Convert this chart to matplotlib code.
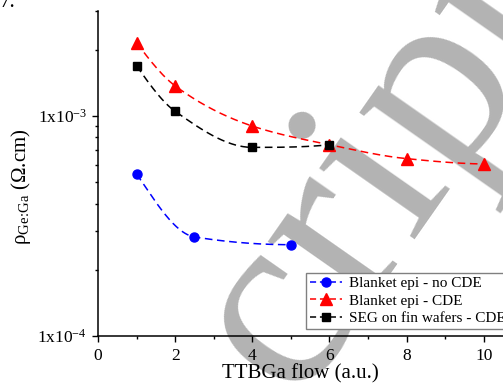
import numpy as np
import matplotlib
matplotlib.use('Agg')
import matplotlib.pyplot as plt
from matplotlib.lines import Line2D
from matplotlib.ticker import FixedLocator, NullFormatter, MultipleLocator

# data
flow_no_cde = [1, 2.5, 5]
rho_no_cde = [5.45e-4, 2.82e-4, 2.6e-4]
flow_cde = [1, 2, 4, 6, 8, 10]
rho_cde = [2.15e-3, 1.37e-3, 9.0e-4, 7.4e-4, 6.4e-4, 6.05e-4]
flow_seg = [1, 2, 4, 6]
rho_seg = [1.69e-3, 1.05e-3, 7.2e-4, 7.4e-4]
series_labels = ['Blanket epi - no CDE', 'Blanket epi - CDE', 'SEG on fin wafers - CDE']
x_ticks = [0, 2, 4, 6, 8, 10]
y_ticks = [1e-4, 1e-3]
y_ticklabels = ['1x10$^{-4}$', '1x10$^{-3}$']


# monotone (pchip) curve through the points in log y, like the origin spline line
def smooth(x, y, n=200):
    x = np.asarray(x, float)
    ly = np.log10(y)
    m = len(x)
    h = np.diff(x)
    delta = np.diff(ly) / h
    d = np.zeros(m)
    for k in range(1, m - 1):
        if delta[k - 1] * delta[k] > 0:
            w1 = 2 * h[k] + h[k - 1]
            w2 = h[k] + 2 * h[k - 1]
            d[k] = (w1 + w2) / (w1 / delta[k - 1] + w2 / delta[k])
    # end slopes
    for k, (hh0, hh1, dl0, dl1) in [(0, (h[0], h[1], delta[0], delta[1])),
                                    (m - 1, (h[-1], h[-2], delta[-1], delta[-2]))]:
        e = ((2 * hh0 + hh1) * dl0 - hh0 * dl1) / (hh0 + hh1)
        if np.sign(e) != np.sign(dl0):
            e = 0
        elif np.sign(dl0) != np.sign(dl1) and abs(e) > abs(3 * dl0):
            e = 3 * dl0
        d[k] = e
    xs = np.linspace(x[0], x[-1], n)
    i = np.clip(np.searchsorted(x, xs) - 1, 0, m - 2)
    t = (xs - x[i]) / h[i]
    h00 = 2 * t ** 3 - 3 * t ** 2 + 1
    h10 = t ** 3 - 2 * t ** 2 + t
    h01 = -2 * t ** 3 + 3 * t ** 2
    h11 = t ** 3 - t ** 2
    ys = h00 * ly[i] + h10 * h[i] * d[i] + h01 * ly[i + 1] + h11 * h[i] * d[i + 1]
    return xs, 10 ** ys


plt.rcParams['font.family'] = 'Liberation Serif'
plt.rcParams['mathtext.fontset'] = 'custom'
plt.rcParams['mathtext.rm'] = 'Liberation Serif'
plt.rcParams['mathtext.default'] = 'regular'

fig = plt.figure(figsize=(5.03, 3.88), dpi=100)
ax = fig.add_axes([98 / 503, 1 - 336 / 388, 405 / 503, 325 / 388])

# watermark
ax.text(293 / 503, 1 - 399 / 388, 'cript', transform=fig.transFigure, fontsize=186, color='#b3b3b3',
        rotation=55, rotation_mode='anchor', ha='left', va='baseline', zorder=0.5, clip_on=False)

series = [
    (flow_no_cde, rho_no_cde, 'blue', 'o', 6.5),
    (flow_cde, rho_cde, 'red', '^', 8),
    (flow_seg, rho_seg, 'black', 's', 6),
]
handles = []
for (fx, fy, col, mk, ms), lab in zip(series, series_labels):
    xs, ys = smooth(fx, fy)
    ax.plot(xs, ys, color=col, lw=1.1, ls=(0, (5, 3)), zorder=2)
    ax.plot(fx, fy, color=col, marker=mk, ms=ms, ls='none', zorder=3)
    handles.append(Line2D([], [], color=col, lw=1.1, ls=(0, (4, 2.5)), marker=mk, ms=ms, label=lab))

ax.set_yscale('log')
ax.set_xlim(0, 10.5)
ax.set_ylim(1e-4, 3e-3)
ax.xaxis.set_major_locator(FixedLocator(x_ticks))
ax.xaxis.set_minor_locator(MultipleLocator(1))
ax.yaxis.set_major_locator(FixedLocator(y_ticks))
ax.set_yticklabels(y_ticklabels)
ax.yaxis.set_minor_locator(FixedLocator([k * 1e-4 for k in range(2, 10)] + [2e-3, 3e-3]))
ax.yaxis.set_minor_formatter(NullFormatter())

for s in ['top', 'right']:
    ax.spines[s].set_visible(False)
for s in ['left', 'bottom']:
    ax.spines[s].set_linewidth(1.1)
ax.tick_params(which='major', length=4.5, width=1.0, labelsize=12.5, direction='out')
ax.tick_params(which='minor', length=2.5, width=1.0, direction='out')
ax.tick_params(axis='x', pad=4)

ax.set_xlabel('TTBGa flow (a.u.)', fontsize=15, labelpad=0)
ax.set_ylabel(r'ρ$_{Ge\!:\!Ga}$ (Ω.cm)', fontsize=15)
ax.yaxis.set_label_coords(-0.16, 0.46)

ax.legend(handles=handles, loc='lower left', bbox_to_anchor=(0.5136, 0.0215), borderaxespad=0,
          fontsize=11, frameon=True, fancybox=False, edgecolor='#808080', framealpha=1,
          handlelength=2.1, handletextpad=0.45, borderpad=0.25, labelspacing=0.25)

fig.text(0.0, 1 - 7 / 388, '7.', fontsize=15, ha='left', va='baseline')

fig.savefig('out.png', dpi=100)
